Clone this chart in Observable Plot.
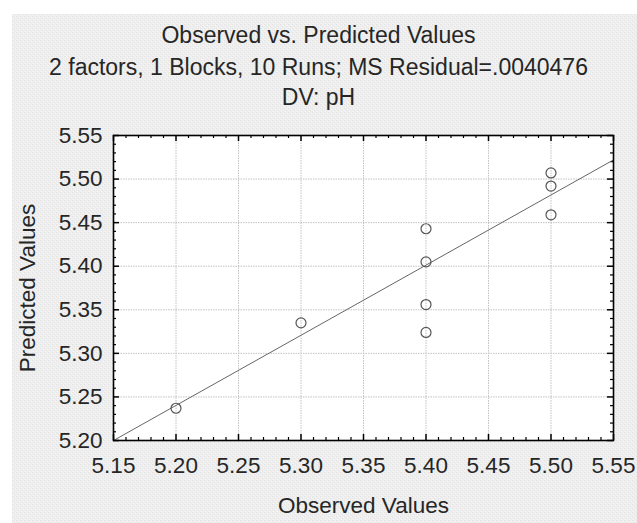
<!DOCTYPE html>
<html>
<head>
<meta charset="utf-8">
<script src="https://cdn.jsdelivr.net/npm/d3@7"></script>
<script src="https://cdn.jsdelivr.net/npm/@observablehq/plot@0.6"></script>
<style>
  html, body { margin: 0; padding: 0; background: #ffffff; }
</style>
</head>
<body>
<div id="chart"></div>
<script>
// ---- data ----
const observed  = [5.20, 5.30, 5.40, 5.40, 5.40, 5.40, 5.50, 5.50, 5.50];
const predicted = [5.237, 5.335, 5.443, 5.405, 5.356, 5.324, 5.507, 5.492, 5.459];
const fitX = [5.15, 5.55];
const fitY = [5.200, 5.522];
const xTicks = [5.15, 5.20, 5.25, 5.30, 5.35, 5.40, 5.45, 5.50, 5.55];
const yTicks = [5.20, 5.25, 5.30, 5.35, 5.40, 5.45, 5.50, 5.55];
const titleLines = ["Observed vs. Predicted Values",
                    "2 factors, 1 Blocks, 10 Runs; MS Residual=.0040476",
                    "DV: pH"];
const xLabel = "Observed Values";
const yLabel = "Predicted Values";

const points = observed.map((o, i) => ({o, p: predicted[i]}));
const fit = fitX.map((x, i) => ({x, y: fitY[i]}));

// minor ticks every 0.01 between majors
const minorX = d3.range(0, 41).map(i => +(5.15 + i * 0.01).toFixed(2)).filter(v => !xTicks.includes(v));
const minorY = d3.range(0, 36).map(i => +(5.20 + i * 0.01).toFixed(2)).filter(v => !yTicks.includes(v));

const W = 637, H = 523;
const mL = 113, mR = 24, mT = 135, mB = 83;
const innerW = W - mL - mR, innerH = H - mT - mB;
const font = "'Liberation Sans', Arial, sans-serif";
const txt = "#262626";
const fs = 22.5, fsTitle = 23;
const major = 6, minor = 3;

const chart = Plot.plot({
  width: W, height: H,
  marginLeft: mL, marginRight: mR, marginTop: mT, marginBottom: mB,
  x: {domain: [5.15, 5.55]},
  y: {domain: [5.20, 5.55]},
  style: {fontFamily: font, background: "transparent", color: txt},
  marks: [
    Plot.frame({fill: "white", stroke: null}),
    Plot.gridX(xTicks, {stroke: "#c2c2c2", strokeOpacity: 1, strokeDasharray: "1.5,1"}),
    Plot.gridY(yTicks, {stroke: "#c2c2c2", strokeOpacity: 1, strokeDasharray: "1.5,1"}),
    // inward ticks: bottom & top
    Plot.ruleX(xTicks, {stroke: "#000", strokeWidth: 1.5, insetTop: innerH - major}),
    Plot.ruleX(minorX, {stroke: "#000", strokeWidth: 1.2, insetTop: innerH - minor}),
    Plot.ruleX(xTicks, {stroke: "#000", strokeWidth: 1.5, insetBottom: innerH - major}),
    Plot.ruleX(minorX, {stroke: "#000", strokeWidth: 1.2, insetBottom: innerH - minor}),
    // inward ticks: left & right
    Plot.ruleY(yTicks, {stroke: "#000", strokeWidth: 1.5, insetRight: innerW - major}),
    Plot.ruleY(minorY, {stroke: "#000", strokeWidth: 1.2, insetRight: innerW - minor}),
    Plot.ruleY(yTicks, {stroke: "#000", strokeWidth: 1.5, insetLeft: innerW - major}),
    Plot.ruleY(minorY, {stroke: "#000", strokeWidth: 1.2, insetLeft: innerW - minor}),
    Plot.line(fit, {x: "x", y: "y", stroke: "#666", strokeWidth: 1, clip: true}),
    Plot.dot(points, {x: "o", y: "p", r: 5, stroke: "#555", strokeWidth: 1.2, fill: "none"}),
    Plot.frame({stroke: "#000", strokeWidth: 1.6}),
    Plot.axisX({ticks: xTicks, tickSize: 0, tickPadding: 17, tickFormat: d3.format(".2f"),
                fontSize: fs, label: null, fill: txt}),
    Plot.axisY({ticks: yTicks, tickSize: 0, tickPadding: 11, tickFormat: d3.format(".2f"),
                fontSize: fs, label: null, fill: txt}),
    Plot.text([titleLines[0]], {text: d => d, frameAnchor: "top", dx: -45, dy: -100, fontSize: fsTitle, fill: txt, lineAnchor: "middle"}),
    Plot.text([titleLines[1]], {text: d => d, frameAnchor: "top", dx: -45, dy: -68, fontSize: fsTitle, fill: txt, lineAnchor: "middle"}),
    Plot.text([titleLines[2]], {text: d => d, frameAnchor: "top", dx: -45, dy: -38, fontSize: fsTitle, fill: txt, lineAnchor: "middle"}),
    Plot.text([xLabel], {text: d => d, frameAnchor: "bottom", dy: 65, fontSize: fs, fill: txt, lineAnchor: "middle", textAnchor: "middle"}),
    Plot.text([yLabel], {text: d => d, frameAnchor: "left", dx: -86, rotate: -90, fontSize: fs, fill: txt, lineAnchor: "middle", textAnchor: "middle"})
  ]
});

// textured light-gray panel behind everything (white strip at top/left)
const svg = d3.select(chart);
const defs = svg.insert("defs", ":first-child");
const pat = defs.append("pattern").attr("id", "tex").attr("width", 4).attr("height", 4)
  .attr("patternUnits", "userSpaceOnUse");
pat.append("rect").attr("width", 4).attr("height", 4).attr("fill", "#eeeeee");
pat.append("rect").attr("x", 0).attr("y", 0).attr("width", 1).attr("height", 1).attr("fill", "#e3e3e3");
pat.append("rect").attr("x", 2).attr("y", 2).attr("width", 1).attr("height", 1).attr("fill", "#e3e3e3");
pat.append("rect").attr("x", 1).attr("y", 3).attr("width", 1).attr("height", 1).attr("fill", "#f7f7f7");
pat.append("rect").attr("x", 3).attr("y", 1).attr("width", 1).attr("height", 1).attr("fill", "#f7f7f7");
svg.insert("rect", "defs + *").attr("x", 12).attr("y", 14).attr("width", W - 12).attr("height", H - 14)
  .attr("fill", "url(#tex)");

document.getElementById("chart").appendChild(chart);
</script>
</body>
</html>
